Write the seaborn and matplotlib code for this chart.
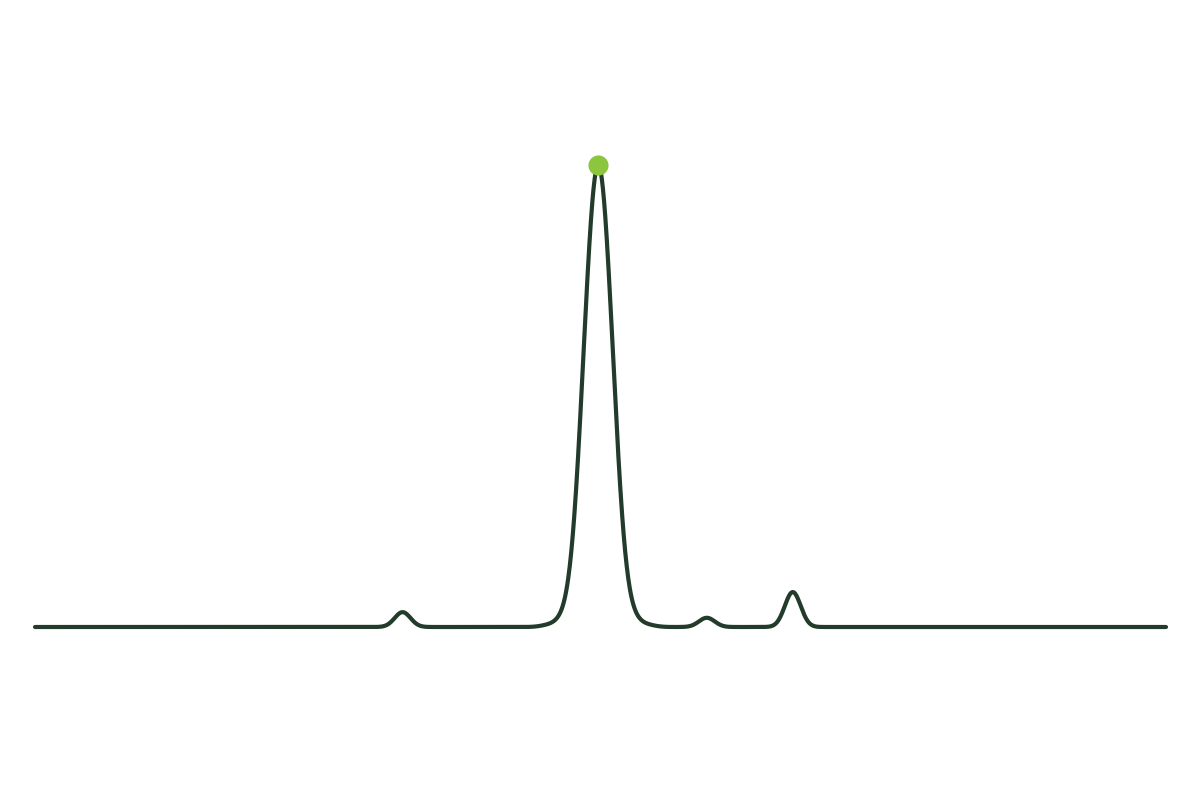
import numpy as np
import seaborn as sns
import matplotlib.pyplot as plt

# peak positions (0-100 scale) and their weights
positions = [32.5,
             45.3, 46.3, 47.0, 47.7, 48.2, 48.7, 49.25, 49.8, 50.35, 50.9, 51.4, 51.9, 52.6, 53.3, 54.3,
             59.4, 67.0]
weights = [15.3,
           1.5, 2.7, 7, 20, 52, 103, 156, 179, 156, 103, 52, 20, 7, 2.7, 1.5,
           9.5, 36]
kernel_sd = 0.70

line_color = "#223b2a"
dot_color = "#8cc63f"

sns.set_theme(style="white")

fig = plt.figure(figsize=(12, 8), dpi=100)
ax = fig.add_axes([35 / 1200, 173 / 800, 1131 / 1200, 462 / 800])

# bandwidth factor so that the kernel has the wanted width
std = np.sqrt(np.cov(np.array(positions), aweights=np.array(weights), bias=False))
sns.kdeplot(x=positions, weights=weights, bw_method=kernel_sd / std,
            clip=(0, 100), cut=100, gridsize=3000,
            color=line_color, linewidth=3, ax=ax)

line = ax.lines[0]
line.set_clip_on(False)
line.set_solid_capstyle("round")
xs, ys = line.get_data()
i = np.argmax(ys)
ax.scatter([xs[i]], [ys[i]], s=210, color=dot_color, zorder=5, clip_on=False,
           linewidths=0)

ax.set_xlim(0, 100)
ax.set_ylim(0, ys[i])
ax.set_axis_off()

fig.savefig("out.png", dpi=100, facecolor="white")
